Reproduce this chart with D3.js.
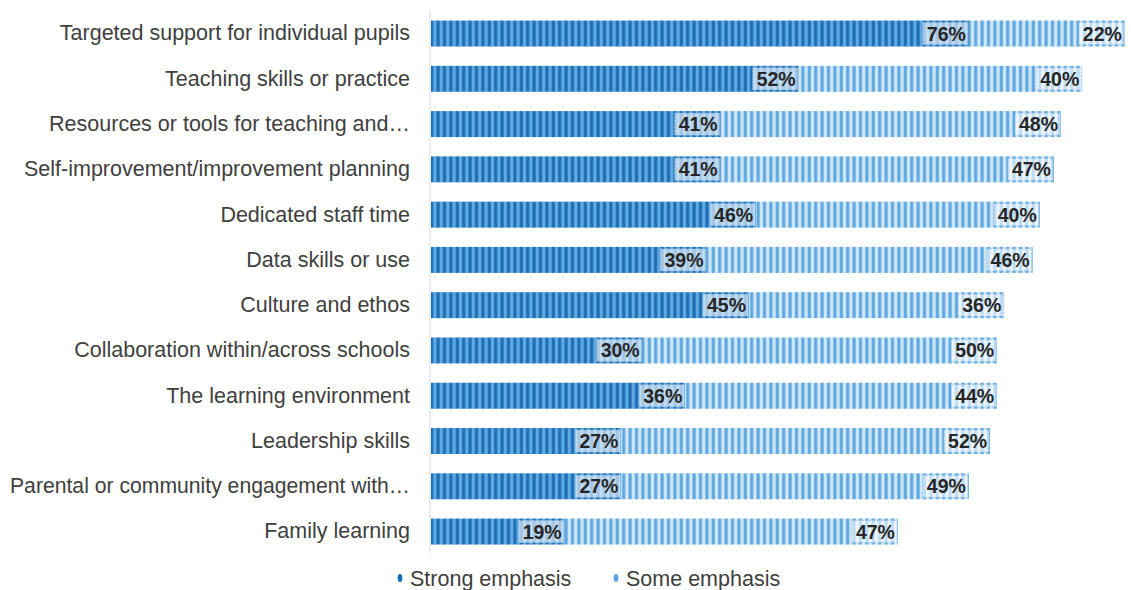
<!DOCTYPE html>
<html><head><meta charset="utf-8">
<script src="https://cdn.jsdelivr.net/npm/d3@7"></script>
<style>body{margin:0;background:#fff;}svg{display:block;font-family:"Liberation Sans",Arial,sans-serif;}</style>
</head><body>
<svg id="c" width="1131" height="590"></svg>
<script>
const categories = ["Targeted support for individual pupils","Teaching skills or practice","Resources or tools for teaching and\u2026","Self-improvement/improvement planning","Dedicated staff time","Data skills or use","Culture and ethos","Collaboration within/across schools","The learning environment","Leadership skills","Parental or community engagement with\u2026","Family learning"];
const strong = [76,52,41,41,46,39,45,30,36,27,27,19];
const some = [22,40,48,47,40,46,36,50,44,52,49,47];
const seriesNames = ["Strong emphasis","Some emphasis"];

const svg = d3.select("#c");
const defs = svg.append("defs");
function stripe(id, bg, fg){
  const p = defs.append("pattern").attr("id",id).attr("patternUnits","userSpaceOnUse").attr("width",6.4).attr("height",10);
  p.append("rect").attr("width",6.4).attr("height",10).attr("fill",bg);
  p.append("rect").attr("x",1.4).attr("width",3).attr("height",10).attr("fill",fg);
}
stripe("pStrong","#5ea9e2","#1d6cb3");
stripe("pSome","#cfe6f7","#5aa7e0");

const x = d3.scaleLinear().domain([0,100]).range([430,1139]);
const y = d3.scaleBand().domain(categories).range([10.9,554.2]).paddingInner(0.426).paddingOuter(0.213);

svg.append("line").attr("x1",430).attr("x2",430).attr("y1",10).attr("y2",553).attr("stroke","#d9d9d9").attr("stroke-width",1);

const rows = categories.map((c,i)=>({c, s:strong[i], o:some[i]}));
const g = svg.append("g");
rows.forEach(d=>{
  const yy = y(d.c), h = y.bandwidth();
  g.append("rect").attr("x",x(0)+1).attr("y",yy).attr("width",x(d.s)-x(0)-1).attr("height",h).attr("fill","url(#pStrong)");
  g.append("rect").attr("x",x(d.s)).attr("y",yy).attr("width",x(d.s+d.o)-x(d.s)).attr("height",h).attr("fill","url(#pSome)");
  [[d.s, d.s],[d.s+d.o, d.o]].forEach(([end,val])=>{
    const tx = x(end)-3, ty = yy+h/2;
    const w = 42;
    g.append("rect").attr("x",tx-w-1).attr("y",ty-11).attr("width",w+3).attr("height",22)
      .attr("fill","#ffffff").attr("fill-opacity",0.6).attr("stroke","#9bbfe0").attr("stroke-dasharray","1.5,2").attr("stroke-width",1);
    g.append("text").attr("x",tx).attr("y",ty).attr("dy","0.36em").attr("text-anchor","end")
      .attr("font-size",19.5).attr("font-weight","bold").attr("fill","#262626").text(val+"%");
  });
});

const yAxis = svg.append("g").attr("transform","translate(430,0)").call(d3.axisLeft(y).tickSize(0).tickPadding(20));
yAxis.select(".domain").remove();
yAxis.selectAll("text").attr("font-size",21.5).attr("fill","#404040").attr("font-family","\"Liberation Sans\",Arial,sans-serif")
  .each(function(){
    const len = this.getComputedTextLength();
    if (len > 400) d3.select(this).attr("textLength",400).attr("lengthAdjust","spacingAndGlyphs");
  });

const leg = svg.append("g");
const items = [{n:seriesNames[0],c:"#1d6cb3",x:400},{n:seriesNames[1],c:"#5aa7e0",x:616}];
items.forEach(it=>{
  leg.append("ellipse").attr("cx",it.x).attr("cy",578).attr("rx",2.4).attr("ry",4).attr("fill",it.c);
  leg.append("text").attr("x",it.x+10).attr("y",578).attr("dy","0.36em").attr("font-size",21.5).attr("fill","#404040").text(it.n);
});
</script>
</body></html>
